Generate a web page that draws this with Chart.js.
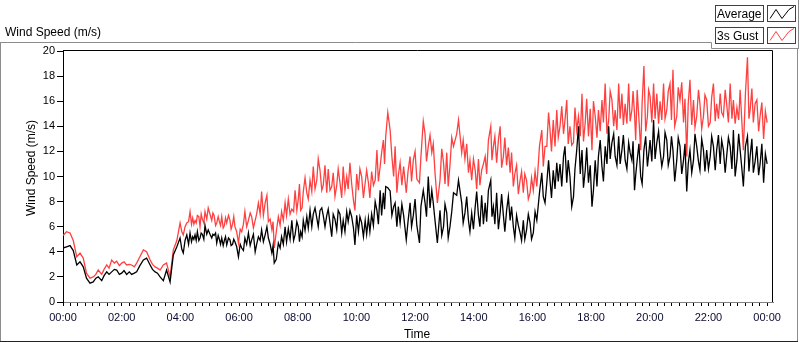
<!DOCTYPE html>
<html>
<head>
<meta charset="utf-8">
<script src="https://cdn.jsdelivr.net/npm/chart.js@4.4.0/dist/chart.umd.min.js"></script>
<style>
body { margin: 0; background: #fff; }
</style>
</head>
<body>
<canvas id="windChart" width="800" height="342"></canvas>
<script>
// time of day in hours
var timeHours = [
    0.00,0.12,0.24,0.35,0.47,0.58,0.69,0.80,0.92,1.03,
    1.12,1.20,1.32,1.40,1.49,1.57,1.66,1.75,1.83,1.92,
    2.00,2.08,2.17,2.26,2.34,2.43,2.51,2.62,2.74,2.85,
    2.97,3.05,3.14,3.22,3.31,3.42,3.53,3.65,3.76,3.88,
    3.99,4.05,4.10,4.16,4.22,4.28,4.33,4.38,4.42,4.46,
    4.50,4.54,4.58,4.63,4.67,4.71,4.75,4.80,4.84,4.90,
    4.95,5.01,5.07,5.11,5.15,5.20,5.24,5.29,5.33,5.37,
    5.41,5.46,5.50,5.54,5.58,5.64,5.69,5.73,5.78,5.82,
    5.86,5.92,5.98,6.04,6.09,6.15,6.20,6.26,6.32,6.38,
    6.43,6.49,6.55,6.60,6.66,6.72,6.77,6.83,6.89,6.95,
    7.00,7.06,7.12,7.16,7.20,7.27,7.34,7.40,7.45,7.51,
    7.57,7.62,7.68,7.74,7.80,7.86,7.91,7.97,8.02,8.06,
    8.10,8.15,8.19,8.25,8.31,8.36,8.42,8.48,8.53,8.59,
    8.65,8.70,8.76,8.82,8.87,8.93,8.99,9.04,9.10,9.16,
    9.21,9.27,9.33,9.38,9.44,9.50,9.55,9.61,9.67,9.72,
    9.78,9.84,9.90,9.95,10.01,10.07,10.12,10.18,10.24,10.30,
    10.35,10.41,10.46,10.52,10.58,10.64,10.70,10.75,10.81,10.86,
    10.92,10.96,11.00,11.07,11.15,11.21,11.27,11.32,11.38,11.43,
    11.49,11.55,11.61,11.70,11.76,11.83,11.88,11.94,12.00,12.06,
    12.15,12.20,12.28,12.34,12.39,12.45,12.51,12.57,12.62,12.68,
    12.76,12.85,12.91,12.97,13.02,13.08,13.13,13.19,13.25,13.31,
    13.42,13.48,13.59,13.64,13.70,13.76,13.82,13.87,13.93,13.99,
    14.05,14.10,14.16,14.21,14.27,14.33,14.39,14.44,14.50,14.58,
    14.62,14.67,14.72,14.78,14.84,14.90,14.95,15.01,15.06,15.12,
    15.18,15.24,15.29,15.35,15.40,15.46,15.52,15.58,15.63,15.69,
    15.74,15.80,15.86,15.92,15.97,16.03,16.09,16.15,16.24,16.32,
    16.37,16.43,16.49,16.55,16.60,16.65,16.71,16.77,16.83,16.88,
    16.94,17.00,17.06,17.11,17.17,17.22,17.28,17.34,17.40,17.45,
    17.51,17.57,17.63,17.69,17.74,17.80,17.85,17.91,17.97,18.03,
    18.08,18.14,18.20,18.25,18.31,18.37,18.42,18.48,18.54,18.60,
    18.65,18.71,18.77,18.82,18.88,18.94,18.99,19.05,19.10,19.16,
    19.22,19.28,19.33,19.39,19.43,19.48,19.52,19.57,19.63,19.69,
    19.74,19.80,19.86,19.92,19.96,20.01,20.07,20.13,20.18,20.24,
    20.30,20.35,20.41,20.47,20.52,20.58,20.63,20.69,20.74,20.79,
    20.85,20.92,20.97,21.03,21.09,21.15,21.20,21.26,21.31,21.37,
    21.43,21.49,21.54,21.60,21.66,21.71,21.77,21.83,21.88,21.94,
    22.00,22.06,22.11,22.17,22.23,22.28,22.34,22.40,22.45,22.51,
    22.57,22.62,22.68,22.74,22.80,22.85,22.91,22.97,23.03,23.08,
    23.14,23.19,23.26,23.33,23.38,23.42,23.48,23.53,23.59,23.65,
    23.71,23.76,23.82,23.88,23.94,24.00
];
var avgSpeed = [
    4.3,4.4,4.5,4.1,2.95,3.2,2.8,1.9,1.5,1.6,
    1.9,2.0,1.7,2.1,2.4,2.2,2.4,2.6,2.55,2.2,
    2.3,2.5,2.2,2.4,2.2,2.3,2.4,2.9,3.35,3.5,
    2.95,2.6,2.4,2.3,2.0,1.7,2.55,1.6,3.75,4.4,
    5.1,4.2,3.9,4.9,5.35,4.6,5.5,4.8,5.2,5.0,
    5.35,4.9,5.6,4.9,5.1,5.5,5.4,5.0,6.1,5.4,
    5.75,5.4,5.1,5.4,5.3,5.5,4.7,5.3,5.0,4.6,
    5.1,4.5,4.9,5.2,4.55,5.1,4.95,4.5,4.6,5.0,
    4.8,4.4,3.6,4.6,4.3,4.1,5.1,4.6,5.5,4.5,
    4.95,5.4,4.0,4.6,5.2,4.9,5.75,4.8,5.35,6.0,
    5.1,4.6,3.9,4.5,3.1,3.4,4.7,4.3,5.2,4.6,
    6.0,4.8,5.85,5.0,6.5,4.9,5.35,6.4,6.0,4.8,
    5.6,5.2,6.5,5.7,6.8,5.9,7.3,6.0,7.0,7.5,
    6.7,6.0,7.3,7.5,6.9,6.0,6.9,7.4,6.3,5.2,
    7.0,6.6,5.75,7.3,7.0,5.5,6.5,5.6,7.2,6.4,
    7.3,6.8,5.9,4.55,6.9,5.6,6.8,6.3,5.2,6.5,
    5.4,6.7,5.6,7.0,6.1,8.0,7.3,6.2,8.9,6.9,
    8.7,7.4,9.2,9.1,8.85,6.9,7.6,7.9,6.0,7.6,
    6.3,7.8,6.9,4.95,6.4,7.9,6.0,6.9,8.2,6.1,
    4.7,7.6,8.9,7.9,6.8,10.0,7.5,8.9,7.9,6.5,
    4.7,7.3,5.3,6.0,7.8,7.1,5.1,6.0,7.2,8.7,
    8.5,9.7,7.9,6.3,7.1,8.4,6.5,5.6,7.1,5.8,
    7.6,8.8,6.9,6.0,8.5,6.2,7.9,6.4,8.9,9.7,
    6.8,7.6,6.2,8.7,5.8,7.1,8.6,6.9,5.6,7.3,
    8.4,6.5,7.6,6.0,5.1,6.9,6.1,5.5,4.9,6.5,
    5.0,5.75,7.0,6.3,5.0,5.5,7.2,6.5,8.7,10.3,
    8.4,7.9,9.5,11.3,9.7,8.3,10.5,9.0,11.1,9.6,
    11.0,9.2,11.6,12.4,9.5,11.3,10.0,7.6,8.4,10.6,
    12.1,14.0,10.2,12.1,9.1,10.5,12.3,9.5,10.9,7.6,
    8.9,11.3,9.2,11.6,12.9,10.8,9.6,12.4,11.0,14.0,
    11.4,12.7,13.4,11.6,10.9,13.2,11.0,12.1,13.3,11.3,
    10.6,12.7,11.9,11.3,12.8,8.9,10.1,11.3,12.6,10.0,
    9.4,12.1,13.2,10.8,11.7,12.9,11.2,14.5,11.4,12.7,
    13.6,12.1,10.8,11.6,13.5,12.9,10.9,11.6,13.2,12.1,
    9.6,11.3,13.1,12.4,10.2,11.3,12.6,8.8,11.0,12.1,
    10.3,11.3,13.4,12.4,11.2,10.5,13.0,12.1,10.4,12.1,
    10.6,11.6,13.2,12.4,10.5,12.1,13.3,11.0,12.9,12.1,
    10.3,11.6,13.1,12.4,10.6,13.7,10.0,11.3,13.4,12.1,
    10.6,9.2,12.4,13.2,10.4,11.6,13.0,10.3,11.2,12.4,
    10.1,11.0,12.6,9.5,11.8,11.0
];
var gustSpeed = [
    5.3,5.6,5.5,4.9,3.6,3.9,3.5,2.3,1.9,2.0,
    2.2,2.55,2.2,2.6,2.95,2.7,3.35,3.1,3.25,2.9,
    3.1,3.2,2.95,3.0,2.95,2.8,3.1,3.6,4.15,4.0,
    3.35,3.0,2.8,2.7,2.55,2.95,3.1,2.0,4.15,4.9,
    6.3,5.6,5.35,6.0,6.3,6.4,7.2,6.2,6.7,6.2,
    6.5,6.3,6.9,6.8,6.0,7.0,6.6,6.3,7.2,6.6,
    7.5,7.0,6.5,7.1,6.9,6.1,6.3,6.8,6.4,6.1,
    6.8,5.9,6.1,6.7,6.3,6.9,6.5,5.8,6.2,6.8,
    6.0,5.6,4.7,5.8,5.6,6.2,7.2,6.0,6.5,7.1,
    6.8,5.9,6.5,7.0,7.9,7.0,8.8,6.9,7.9,8.5,
    6.4,6.6,5.75,6.4,4.3,5.6,6.8,6.1,7.2,6.5,
    7.9,6.9,8.2,7.0,7.4,7.2,8.9,7.3,8.2,9.4,
    7.3,7.5,8.8,9.9,8.7,8.2,9.7,8.8,10.8,9.0,
    9.7,11.4,10.5,8.9,9.3,10.9,8.7,10.6,8.9,9.2,
    10.3,8.4,9.3,10.6,9.5,8.3,10.8,8.9,10.0,9.0,
    11.1,9.4,8.1,7.3,10.2,8.9,10.6,10.0,8.3,9.5,
    10.5,9.5,8.3,10.4,9.3,9.7,12.1,9.6,10.8,11.9,
    12.9,11.0,13.2,15.1,13.7,11.6,10.0,12.4,8.7,10.1,
    11.1,9.3,10.8,8.7,10.4,11.6,9.6,11.3,12.0,9.8,
    9.5,11.6,14.4,13.4,11.2,12.4,13.3,11.9,12.6,10.3,
    7.9,9.7,12.2,11.1,9.4,11.9,9.2,10.9,13.1,12.4,
    13.4,14.5,11.9,12.9,11.4,12.6,10.3,11.3,9.7,11.4,
    10.5,9.0,11.4,9.3,10.5,11.0,11.6,10.2,12.9,14.0,
    11.3,12.4,13.2,11.1,12.9,14.0,10.7,11.6,13.1,10.9,
    12.3,10.3,11.9,9.2,10.2,10.9,8.6,9.7,10.4,8.7,
    10.2,9.7,8.2,8.7,9.9,8.9,10.4,9.2,12.4,13.7,
    10.8,12.4,12.4,15.1,13.7,12.0,14.5,12.4,15.3,13.1,
    14.0,15.6,13.4,14.5,16.1,12.6,14.0,12.5,12.7,15.5,
    13.7,14.8,13.2,16.6,12.8,14.3,16.2,13.2,15.4,12.1,
    16.0,14.8,13.1,15.3,13.6,16.1,14.3,17.4,13.4,14.5,
    16.8,16.1,14.0,15.3,13.7,17.4,14.6,16.6,14.1,15.8,
    14.2,17.4,14.4,15.3,16.8,15.0,12.9,16.9,14.6,12.1,
    15.9,18.8,13.6,14.8,16.9,16.4,14.3,17.4,14.6,16.6,
    14.2,16.0,14.5,17.4,14.6,15.3,16.8,17.4,14.5,18.5,
    14.0,14.8,17.1,16.1,17.5,14.3,16.2,11.6,15.8,17.7,
    14.1,16.1,13.9,14.8,16.9,15.8,13.8,14.8,16.5,16.1,
    14.0,14.3,16.3,17.4,14.4,15.8,14.6,16.6,15.1,14.8,
    16.9,15.8,14.3,17.4,14.6,16.1,14.2,15.5,14.5,16.9,
    14.3,12.1,16.6,19.5,14.6,15.3,17.0,14.3,15.8,16.1,
    13.6,14.8,15.9,13.0,15.2,14.3
];
var hourLabels = ['00:00','02:00','04:00','06:00','08:00','10:00','12:00',
    '14:00','16:00','18:00','20:00','22:00','00:00'];
var seriesNames = ['Average', '3s Gust'];
var seriesColors = ['#000000', '#ff4040'];

Chart.defaults.font.family = 'Liberation Sans';
Chart.defaults.font.size = 11;
Chart.defaults.color = '#000';

function toPoints(vals) {
    return timeHours.map(function (t, i) { return { x: t, y: vals[i] }; });
}

// frame, titles and the LabVIEW style legend
var framePlugin = {
    id: 'frame',
    afterDraw: function (chart) {
        var c = chart.ctx;
        var a = chart.chartArea;
        c.save();
        c.lineWidth = 1;
        // outer panel
        c.strokeStyle = '#8c8c8c';
        c.beginPath();
        c.moveTo(0, 42.5); c.lineTo(711.5, 42.5); c.lineTo(711.5, 48.5); c.lineTo(799, 48.5);
        c.moveTo(0.5, 42); c.lineTo(0.5, 342);
        c.moveTo(797.5, 49); c.lineTo(797.5, 342);
        c.moveTo(798.5, 0); c.lineTo(798.5, 49);
        c.stroke();
        c.strokeStyle = '#222';
        c.beginPath();
        c.moveTo(0, 341.5); c.lineTo(798, 341.5);
        c.stroke();
        // plot border top and right
        c.strokeStyle = '#000';
        c.beginPath();
        c.moveTo(a.left, a.top - 0.5); c.lineTo(a.right - 0.5, a.top - 0.5); c.lineTo(a.right - 0.5, a.bottom);
        c.stroke();
        // titles
        c.fillStyle = '#000';
        c.font = '12px "Liberation Sans"';
        c.textBaseline = 'alphabetic';
        c.textAlign = 'left';
        c.fillText('Wind Speed (m/s)', 5, 36);
        c.textAlign = 'center';
        c.fillText('Time', 417, 338);
        c.save();
        c.translate(35, 168);
        c.rotate(-Math.PI / 2);
        c.fillText('Wind Speed (m/s)', 0, 0);
        c.restore();
        // legend
        for (var i = 0; i < seriesNames.length; i++) {
            var top = 5.5 + i * 22;
            c.strokeStyle = '#404040';
            c.fillStyle = '#fff';
            c.fillRect(715.5, top, 48, 16);
            c.strokeRect(715.5, top, 48, 16);
            c.fillRect(767.5, top, 28, 16);
            c.strokeRect(767.5, top, 28, 16);
            c.fillStyle = '#000';
            c.textAlign = 'left';
            c.fillText(seriesNames[i], 717, top + 12.5);
            c.strokeStyle = seriesColors[i];
            c.beginPath();
            c.moveTo(770, top + 13); c.lineTo(776, top + 4); c.lineTo(782, top + 13);
            c.lineTo(789, top + 4); c.lineTo(794, top + 1);
            c.stroke();
        }
        c.restore();
    }
};

var ctx = document.getElementById('windChart').getContext('2d');
var windChart = new Chart(ctx, {
    type: 'line',
    data: {
        datasets: [{
            label: seriesNames[0],
            data: toPoints(avgSpeed),
            borderColor: seriesColors[0],
            borderWidth: 1.3,
            pointRadius: 0,
            tension: 0
        }, {
            label: seriesNames[1],
            data: toPoints(gustSpeed),
            borderColor: seriesColors[1],
            borderWidth: 1.3,
            pointRadius: 0,
            tension: 0
        }]
    },
    options: {
        responsive: false,
        animation: false,
        devicePixelRatio: 1,
        layout: {
            padding: { top: 51, right: 27, left: 0, bottom: 0 }
        },
        plugins: {
            legend: { display: false },
            tooltip: { enabled: false }
        },
        scales: {
            x: {
                type: 'linear',
                min: 0,
                max: 24.2,
                afterBuildTicks: function (scale) {
                    var t = [];
                    for (var i = 0; i <= 96; i++) t.push({ value: i * 0.25 });
                    scale.ticks = t;
                },
                afterFit: function (scale) { scale.height = 40; },
                ticks: {
                    autoSkip: false,
                    maxRotation: 0,
                    padding: 5,
                    color: '#0a0a30',
                    callback: function (v) {
                        return v % 2 === 0 ? hourLabels[v / 2] : '';
                    }
                },
                grid: { drawOnChartArea: false, tickLength: 4, tickColor: '#000' },
                border: { color: '#808080' }
            },
            y: {
                min: 0,
                max: 20,
                afterFit: function (scale) { scale.width = 63; },
                ticks: { stepSize: 2, padding: 2 },
                grid: { drawOnChartArea: false, tickLength: 6, tickColor: '#000' },
                border: { color: '#000' }
            }
        }
    },
    plugins: [framePlugin]
});
</script>
</body>
</html>
